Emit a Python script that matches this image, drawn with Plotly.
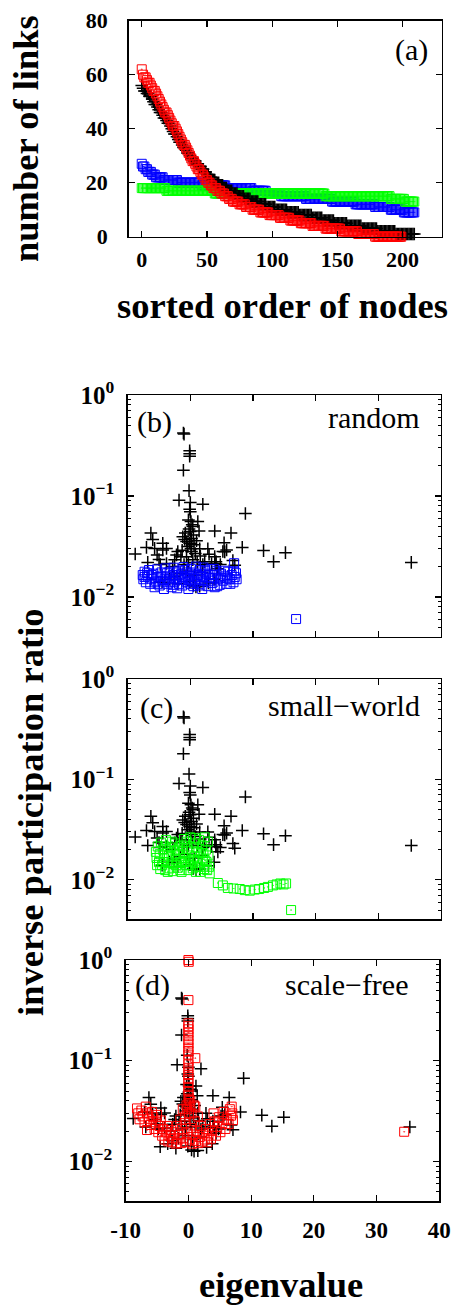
import plotly.graph_objects as go

# ---------------- Panel (a): sorted number of links (value, number of nodes with it) ----------------
links_real_runs = [(56, 1), (55, 1), (54, 2), (53, 2), (52, 2), (51, 1), (50, 1), (49, 2), (48, 1), (47, 1),
                   (46, 2), (45, 1), (44, 2), (43, 1), (42, 2), (41, 1), (40, 1), (39, 1), (38, 2), (37, 1),
                   (36, 1), (35, 2), (34, 1), (33, 2), (32, 1), (31, 2), (30, 1), (29, 2), (28, 2), (27, 2),
                   (26, 2), (25, 2), (24, 2), (23, 2), (22, 2), (21, 3), (20, 3), (19, 3), (18, 3), (17, 4),
                   (16, 4), (15, 5), (14, 5), (13, 6), (12, 6), (11, 7), (10, 9), (9, 9), (8, 10), (7, 8),
                   (6, 9), (5, 10), (4, 11), (3, 12), (2, 14), (1, 15)]
links_random_runs = [(27, 1), (26, 2), (25, 2), (24, 3), (23, 3), (22, 6), (21, 11), (20, 18), (19, 19),
                     (18, 20), (17, 11), (16, 11), (15, 19), (14, 20), (13, 18), (12, 15), (11, 12), (10, 10), (9, 9)]
links_smallworld_runs = [(18, 19), (17, 37), (16, 85), (15, 50), (14, 11), (13, 8)]
links_scalefree_runs = [(62, 1), (60, 1), (59, 2), (58, 1), (57, 2), (56, 1), (55, 1), (54, 2), (53, 1), (52, 1),
                        (51, 1), (50, 1), (49, 1), (48, 1), (47, 1), (46, 2), (45, 1), (44, 1), (43, 1), (42, 1),
                        (41, 2), (40, 1), (39, 1), (38, 1), (37, 1), (36, 1), (35, 1), (34, 2), (33, 1), (32, 1),
                        (31, 1), (30, 1), (29, 1), (28, 2), (27, 1), (26, 1), (25, 2), (24, 1), (23, 2), (22, 1),
                        (21, 2), (20, 2), (19, 2), (18, 3), (17, 3), (16, 3), (15, 3), (14, 3), (13, 5), (12, 5),
                        (11, 5), (10, 6), (9, 7), (8, 8), (7, 8), (6, 8), (5, 9), (4, 10), (3, 12), (2, 13),
                        (1, 13), (0, 21)]

# ---------------- Panels (b)-(d): (eigenvalue, inverse participation ratio) ----------------
real_points = [
    (-1.1, 0.420), (-1.0, 0.410), (-0.1, 0.280), (-0.1, 0.262), (-0.1, 0.248), (-1.1, 0.180), (-0.2, 0.113),
    (-1.8, 0.091), (0.0, 0.086), (2.0, 0.083), (-0.1, 0.074), (0.0, 0.070), (8.8, 0.067), (-0.3, 0.058),
    (0.1, 0.056), (1.2, 0.056), (0.4, 0.050), (1.4, 0.045), (3.9, 0.045), (6.5, 0.043), (-6.3, 0.043),
    (-6.0, 0.037), (5.4, 0.0345), (-4.4, 0.034), (-7.0, 0.031), (8.3, 0.031), (11.7, 0.0288), (15.2, 0.0275),
    (-8.8, 0.0267), (13.3, 0.0224), (35.3, 0.0220),
    (-1.2, 0.0395), (-0.9, 0.0372), (-0.6, 0.0355), (0.2, 0.038), (-0.1, 0.034), (-0.4, 0.0316), (0.2, 0.0282),
    (-0.6, 0.0251), (0.4, 0.0234), (-1.5, 0.0251), (-2.0, 0.0282), (-2.5, 0.0234), (1.5, 0.030), (2.8, 0.030),
    (1.6, 0.0255), (2.3, 0.0224), (3.9, 0.0251), (4.1, 0.0224), (5.2, 0.0282), (5.8, 0.0292), (3.4, 0.0215),
    (-3.8, 0.0215), (-2.2, 0.0261), (-4.4, 0.0292), (-5.3, 0.0261), (-5.7, 0.0303), (-3.8, 0.0303), (-1.3, 0.029),
    (0.5, 0.041), (0.0, 0.0445), (0.3, 0.052), (-0.2, 0.047), (0.6, 0.033), (1.0, 0.036), (-0.8, 0.043),
    (0.1, 0.0300), (0.8, 0.027), (-0.3, 0.022), (1.1, 0.022), (-1.0, 0.021), (2.0, 0.021), (-2.8, 0.020),
    (4.8, 0.021), (-4.8, 0.021), (-6.8, 0.022), (-5.0, 0.0235), (6.8, 0.023), (3.0, 0.0265),
    (4.1, 0.0214), (4.4, 0.019), (7.1, 0.0206), (5.5, 0.028), (0.9, 0.0126), (1.5, 0.0128), (-4.5, 0.0140),
    (0.5, 0.0130), (2.9, 0.0138), (-0.1, 0.0142), (-2.0, 0.0135), (-3.3, 0.0150), (3.8, 0.0150), (-1.6, 0.0170),
    (0.7, 0.0165), (-0.5, 0.0180), (1.9, 0.0175), (-2.6, 0.0160),
]

random_points = [
    (-7.6, 0.0165), (-7.5, 0.0150), (-7.3, 0.0178), (-7.1, 0.0140), (-6.8, 0.0160), (-6.6, 0.0185), (-6.4, 0.0135),
    (-6.2, 0.0152), (-5.9, 0.0170), (-5.7, 0.0125), (-5.5, 0.0145), (-5.3, 0.0188), (-5.1, 0.0158), (-4.9, 0.0130),
    (-4.6, 0.0175), (-4.4, 0.0142), (-4.2, 0.0120), (-4.0, 0.0192), (-3.9, 0.0160), (-3.6, 0.0135), (-3.4, 0.0150),
    (-3.3, 0.0178), (-3.0, 0.0125), (-2.8, 0.0165), (-2.7, 0.0195), (-2.5, 0.0142), (-2.3, 0.0155), (-2.1, 0.0122),
    (-1.9, 0.0182), (-1.7, 0.0148), (-1.5, 0.0168), (-1.3, 0.0130), (-1.1, 0.0198), (-0.9, 0.0155), (-0.7, 0.0140),
    (-0.5, 0.0175), (-0.3, 0.0120), (-0.1, 0.0162), (0.1, 0.0190), (0.3, 0.0145), (0.5, 0.0128), (0.7, 0.0170),
    (0.9, 0.0200), (1.1, 0.0150), (1.3, 0.0135), (1.5, 0.0185), (1.7, 0.0160), (1.9, 0.0120), (2.1, 0.0196),
    (2.3, 0.0143), (2.5, 0.0170), (2.8, 0.0128), (3.0, 0.0155), (3.2, 0.0188), (3.5, 0.0138), (3.7, 0.0165),
    (3.9, 0.0125), (4.2, 0.0180), (4.4, 0.0150), (4.7, 0.0132), (4.9, 0.0170), (5.2, 0.0145), (5.5, 0.0160),
    (5.8, 0.0135), (6.0, 0.0178), (6.3, 0.0150), (6.6, 0.0165), (6.9, 0.0140), (7.1, 0.0158), (7.3, 0.0172),
    (7.4, 0.0150), (7.0, 0.0216),
    (-7.3, 0.0158), (-6.9, 0.0172), (-6.2, 0.0165), (-5.7, 0.0140), (-5.2, 0.0135), (-4.7, 0.0160), (-4.1, 0.0150),
    (-3.7, 0.0172), (-3.2, 0.0140), (-2.7, 0.0132), (-2.2, 0.0175), (-1.8, 0.0135), (-1.3, 0.0158), (-0.8, 0.0185),
    (-0.4, 0.0150), (0.0, 0.0135), (0.4, 0.0175), (0.8, 0.0140), (1.2, 0.0165), (1.6, 0.0130), (2.0, 0.0158),
    (2.4, 0.0182), (2.9, 0.0165), (3.3, 0.0145), (3.8, 0.0190), (4.3, 0.0128), (4.8, 0.0155), (5.4, 0.0182),
    (5.9, 0.0155), (6.4, 0.0135), (7.0, 0.0180),
    (16.9, 0.00605),
]

smallworld_points = [
    (-5.5, 0.0190), (-5.4, 0.0165), (-5.2, 0.0215), (-5.0, 0.0150), (-4.9, 0.0180), (-4.7, 0.0235), (-4.5, 0.0140),
    (-4.4, 0.0200), (-4.2, 0.0165), (-4.0, 0.0125), (-3.9, 0.0250), (-3.7, 0.0185), (-3.5, 0.0150), (-3.3, 0.0130),
    (-3.2, 0.0210), (-3.0, 0.0170), (-2.8, 0.0122), (-2.7, 0.0145), (-2.5, 0.0195), (-2.4, 0.0230), (-2.2, 0.0160),
    (-2.0, 0.0132), (-1.9, 0.0180), (-1.7, 0.0215), (-1.5, 0.0150), (-1.4, 0.0120), (-1.2, 0.0190), (-1.0, 0.0255),
    (-0.9, 0.0165), (-0.7, 0.0140), (-0.5, 0.0205), (-0.3, 0.0125), (-0.2, 0.0175), (0.0, 0.0265), (0.1, 0.0150),
    (0.3, 0.0195), (0.4, 0.0130), (0.6, 0.0230), (0.7, 0.0170), (0.9, 0.0120), (1.0, 0.0210), (1.2, 0.0155),
    (1.4, 0.0250), (1.5, 0.0135), (1.7, 0.0185), (1.9, 0.0220), (2.0, 0.0160), (2.2, 0.0128), (2.3, 0.0265),
    (2.5, 0.0200), (2.6, 0.0150), (2.8, 0.0240), (2.9, 0.0175), (3.0, 0.0135), (3.1, 0.0116),
    (-5.3, 0.0140), (-4.8, 0.0128), (-4.1, 0.0215), (-3.6, 0.0120), (-2.9, 0.0240), (-2.3, 0.0140), (-1.6, 0.0125),
    (-1.1, 0.0150), (-0.6, 0.0240), (-0.1, 0.0140), (0.5, 0.0160), (1.1, 0.0135), (1.6, 0.0120), (2.1, 0.0185),
    (2.7, 0.0125), (-3.4, 0.0175), (-1.3, 0.0220), (0.8, 0.0260), (2.4, 0.0155), (-4.3, 0.0150), (-0.4, 0.0155),
    (1.3, 0.0190), (-2.1, 0.0200),
    (4.4, 0.0093), (5.2, 0.0088), (6.0, 0.0083), (6.9, 0.0082), (7.9, 0.0081), (8.7, 0.0079), (9.5, 0.0078),
    (10.3, 0.0080), (11.0, 0.0081), (11.8, 0.0083), (12.4, 0.0085), (13.2, 0.0088), (13.8, 0.0090), (14.4, 0.0092),
    (14.9, 0.0090), (15.3, 0.0092),
    (16.1, 0.0050),
]

scalefree_points = [
    (0.0, 1.00), (0.05, 0.96), (0.0, 0.40), (0.0, 0.235), (0.0, 0.22), (0.0, 0.205), (0.0, 0.19), (0.0, 0.175),
    (0.0, 0.16), (0.0, 0.148), (0.0, 0.135), (0.0, 0.125), (0.0, 0.115), (1.1, 0.106), (0.0, 0.100), (0.0, 0.092),
    (0.0, 0.085), (0.0, 0.078), (0.0, 0.072), (0.0, 0.066), (0.0, 0.060), (0.0, 0.055), (0.0, 0.050), (0.0, 0.046),
    (0.1, 0.042), (0.0, 0.038), (0.2, 0.035), (-0.2, 0.033), (0.1, 0.030),
    (-8.2, 0.0336), (-8.0, 0.0300), (-7.8, 0.0262), (-7.5, 0.0320), (-7.3, 0.0280), (-7.0, 0.0245), (-6.8, 0.0350),
    (-6.6, 0.0300), (-6.6, 0.0205), (-6.3, 0.0265), (-6.0, 0.0230), (-5.8, 0.0310), (-5.6, 0.0275), (-5.4, 0.0210),
    (-5.2, 0.0245), (-5.0, 0.0290), (-4.8, 0.0195), (-4.6, 0.0225), (-4.4, 0.0255), (-4.2, 0.0180), (-4.0, 0.0210),
    (-3.8, 0.0165), (-3.6, 0.0195), (-3.4, 0.0225), (-3.2, 0.0158), (-3.0, 0.0180), (-2.8, 0.0205), (-2.6, 0.0155),
    (-2.4, 0.0170), (-2.2, 0.0195), (-2.0, 0.0150), (-1.8, 0.0225), (-1.6, 0.0165), (-1.4, 0.0185), (-1.2, 0.0152),
    (-1.0, 0.0210), (-0.8, 0.0170), (-0.6, 0.0240), (-0.4, 0.0155), (-0.2, 0.0190), (0.2, 0.0165), (0.4, 0.0215),
    (0.6, 0.0150), (0.8, 0.0185), (1.0, 0.0250), (1.2, 0.0160), (1.4, 0.0200), (1.6, 0.0152), (1.8, 0.0175),
    (2.0, 0.0225), (2.2, 0.0158), (2.4, 0.0190), (2.6, 0.0165), (2.8, 0.0210), (3.0, 0.0155), (3.2, 0.0180),
    (3.4, 0.0235), (3.6, 0.0168),
    (3.8, 0.0200), (4.0, 0.0300), (4.2, 0.0250), (4.4, 0.0180), (4.6, 0.0220), (4.9, 0.0275), (5.1, 0.0195),
    (5.4, 0.0240), (5.6, 0.0310), (5.9, 0.0210), (6.1, 0.0265), (6.4, 0.0235), (6.6, 0.0330), (6.8, 0.0285),
    (6.9, 0.0350), (7.1, 0.0257), (7.0, 0.0300),
    (-0.5, 0.0280), (0.5, 0.0300), (-0.9, 0.0330), (0.9, 0.0360), (1.1, 0.0350), (-1.3, 0.0260), (1.5, 0.0280),
    (-0.3, 0.0360), (0.3, 0.0400),
    (34.4, 0.0197),
]

# tick labels
links_x_ticks = [0, 50, 100, 150, 200]
links_y_ticks = [0, 20, 40, 60, 80]
eig_ticks = [-10, 0, 10, 20, 30, 40]
eig_tick_text = ["-10", "0", "10", "20", "30", "40"]
ipr_ticks = [0.01, 0.1, 1]
ipr_tick_text = ["10<sup>\u22122</sup>", "10<sup>\u22121</sup>", "10<sup>0</sup>"]

BLACK, BLUE, GREEN, RED = "#000000", "#0000ff", "#00ff00", "#ff0000"
W, H = 456, 1309
SERIF = "Liberation Serif"


def expand(runs):
    vals = []
    for v, c in runs:
        vals.extend([v] * c)
    return vals


def xdom(l, r):
    return [l / W, r / W]


def ydom(t, b):
    return [1 - b / H, 1 - t / H]


def cross(x, y, xa, ya):
    return go.Scatter(x=x, y=y, mode="markers", xaxis=xa, yaxis=ya, cliponaxis=False, showlegend=False,
                      hoverinfo="skip",
                      marker=dict(symbol="cross-thin", size=9, color=BLACK, line=dict(width=1.5, color=BLACK)))


def squares(x, y, color, xa, ya):
    return go.Scatter(x=x, y=y, mode="markers", xaxis=xa, yaxis=ya, cliponaxis=False, showlegend=False,
                      hoverinfo="skip",
                      marker=dict(symbol="square-open-dot", size=9, color=color, line=dict(width=1, color=color)))


fig = go.Figure()

# panel (a)
for runs, color in [(links_random_runs, BLUE), (links_smallworld_runs, GREEN)]:
    v = expand(runs)
    fig.add_trace(squares(list(range(len(v))), v, color, "x", "y"))
v = expand(links_real_runs)
fig.add_trace(cross(list(range(len(v))), v, "x", "y"))
v = expand(links_scalefree_runs)
fig.add_trace(squares(list(range(len(v))), v, RED, "x", "y"))

# panels (b)-(d)
re_e = [p[0] for p in real_points]
re_i = [p[1] for p in real_points]
for pts, color, xa, ya in [(random_points, BLUE, "x2", "y2"),
                           (smallworld_points, GREEN, "x3", "y3"),
                           (scalefree_points, RED, "x4", "y4")]:
    fig.add_trace(cross(re_e, re_i, xa, ya))
    fig.add_trace(squares([p[0] for p in pts], [p[1] for p in pts], color, xa, ya))


def tfont(size):
    return dict(family=SERIF, size=size, color="black", weight="bold")


common = dict(showline=True, linecolor="black", linewidth=1.5, mirror="ticks", ticks="inside", ticklen=6,
              tickwidth=1.2, tickcolor="black", showgrid=False, zeroline=False, automargin=False)
minor_vals = [k * 10.0 ** p for p in (-3, -2, -1) for k in range(2, 10)]
logy = dict(type="log", range=[-2.393, 0.0], tickvals=ipr_ticks, ticktext=ipr_tick_text, tickfont=tfont(25),
            ticklabelstandoff=7,
            minor=dict(tickvals=minor_vals, ticks="inside", ticklen=3, tickcolor="black", tickwidth=1), **common)
eigx = dict(range=[-10, 40], tickvals=eig_ticks, ticktext=eig_tick_text, tickfont=tfont(23),
            ticklabelstandoff=8, **common)

fig.update_layout(
    template="none",
    width=W, height=H, autosize=False, margin=dict(l=0, r=0, t=0, b=0, pad=0, autoexpand=False),
    paper_bgcolor="white", plot_bgcolor="white", showlegend=False,
    xaxis=dict(domain=xdom(128.7, 441.7), anchor="y", range=[-10, 230], tickvals=links_x_ticks,
               tickfont=tfont(22), ticklabelstandoff=2, **common),
    yaxis=dict(domain=ydom(20.7, 236.7), anchor="x", range=[0, 80], tickvals=links_y_ticks,
               tickfont=tfont(22), ticklabelstandoff=15, **common),
    xaxis2=dict(domain=xdom(127.7, 440.7), anchor="y2", showticklabels=False, **eigx),
    yaxis2=dict(domain=ydom(395, 636.7), anchor="x2", **logy),
    xaxis3=dict(domain=xdom(127.7, 440.7), anchor="y3", showticklabels=False, **eigx),
    yaxis3=dict(domain=ydom(679, 919.3), anchor="x3", **logy),
    xaxis4=dict(domain=xdom(125.7, 439.3), anchor="y4", **eigx),
    yaxis4=dict(domain=ydom(960, 1201), anchor="x4", **logy),
)

title_font = dict(family=SERIF, size=36.5, color="black", weight="bold")
label_font = dict(family=SERIF, size=30, color="black")


def ann(text, px, py, font, xanchor="center", angle=0):
    fig.add_annotation(text=text, x=px / W, y=1 - py / H, xref="paper", yref="paper", showarrow=False,
                       xanchor=xanchor, yanchor="middle", textangle=angle, font=font)


ann("number of links", 25, 139, title_font, angle=-90)
ann("sorted order of nodes", 282.5, 306, title_font)
ann("inverse participation ratio", 30, 812, title_font, angle=-90)
ann("eigenvalue", 281, 1284, title_font)

ann("(a)", 430, 50, label_font, xanchor="right")
ann("(b)", 135, 422, label_font, xanchor="left")
ann("random", 421.7, 417, label_font, xanchor="right")
ann("(c)", 138, 708, label_font, xanchor="left")
ann("small\u2212world", 421.7, 706, label_font, xanchor="right")
ann("(d)", 133, 985, label_font, xanchor="left")
ann("scale\u2212free", 410.7, 984, label_font, xanchor="right")

fig.write_html("out.html", config={"displayModeBar": False, "staticPlot": True},
               post_script="document.body.style.margin='0px';document.body.style.overflow='hidden';")
